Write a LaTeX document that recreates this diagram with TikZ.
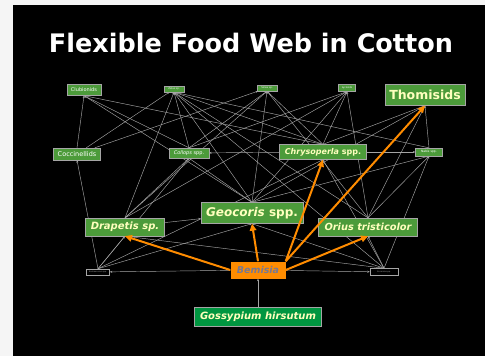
\documentclass[tikz,border=0pt]{standalone}
\usepackage{fontspec}
\setmainfont{DejaVu Sans}
\usetikzlibrary{arrows.meta,backgrounds}

\definecolor{webgreen}{RGB}{76,155,58}
\definecolor{cottongreen}{RGB}{0,150,64}
\definecolor{webyellow}{RGB}{255,255,190}
\definecolor{weborange}{RGB}{255,140,0}
\definecolor{webgray}{RGB}{165,165,165}
\definecolor{bemgray}{RGB}{120,120,145}

\newcommand{\fsz}[1]{\fontsize{#1}{#1}\selectfont}

\begin{document}
\begin{tikzpicture}[x=1pt,y=-1pt,
    taxon/.style={fill=webgreen,draw=webgray,line width=0.3pt,inner sep=0pt,text=webyellow},
    para/.style={fill=black,draw=webgray,line width=0.5pt,inner sep=0pt,text=webgray},
    feed/.style={draw=webgray,line width=0.45pt,-{Stealth[length=2.5pt,width=2pt]}},
    prey/.style={draw=weborange,line width=2pt,-{Triangle[length=7pt,width=6.5pt]}}]

        % page and title
        \useasboundingbox (0,0) rectangle (485,356);
        \node[font=\fsz{25.5}\bfseries,text=white] (title) at (251,43) {Flexible Food Web in Cotton};

        % top row
        \node[taxon,minimum width=34,minimum height=11,font=\fsz{5},text=white] (club) at (84,90) {Clubionids};
        \node[taxon,minimum width=20,minimum height=6,font=\fsz{2.5},text=white] (zel) at (174,89) {Zelus sp.};
        \node[taxon,minimum width=20,minimum height=6,font=\fsz{2.5},text=white] (sin) at (267,88) {Sinea sp.};
        \node[taxon,minimum width=17,minimum height=7,font=\fsz{2.5},text=white] (lyc) at (347,88) {Lycosids};
        \node[taxon,minimum width=80,minimum height=21,font=\fsz{12.5}\bfseries] (thom) at (425,95) {Thomisids};

        % middle row
        \node[taxon,minimum width=47,minimum height=12,font=\fsz{6.5},text=white] (cocc) at (77,154) {Coccinellids};
        \node[taxon,minimum width=40,minimum height=10,font=\fsz{5},text=white] (coll) at (189,153) {\itshape Collops\upshape{} spp.};
        \node[taxon,minimum width=87,minimum height=15,font=\fsz{8}\bfseries] (chry) at (323,152) {\itshape Chrysoperla\upshape{} spp.};
        \node[taxon,minimum width=27,minimum height=8,font=\fsz{3},text=white] (nab) at (429,152) {Nabis spp.};

        % lower row
        \node[taxon,minimum width=79,minimum height=18,font=\fsz{10}\bfseries\itshape] (drap) at (125,227) {Drapetis sp.};
        \node[taxon,minimum width=102,minimum height=21,font=\fsz{12}\bfseries] (geo) at (252,213) {\itshape Geocoris\upshape{} spp.};
        \node[taxon,minimum width=99,minimum height=18,font=\fsz{9.8}\bfseries\itshape] (ori) at (368,227) {Orius tristicolor};

        % whitefly, parasitoids, host plant
        \node[fill=weborange,inner sep=0pt,minimum width=55,minimum height=17,font=\fsz{9.5}\bfseries\itshape,text=bemgray] (bem) at (258,270) {Bemisia};
        \node[para,minimum width=23,minimum height=6,font=\fsz{2}] (ere) at (98,272) {Eretmocerus spp.};
        \node[para,minimum width=28,minimum height=7,font=\fsz{2}] (enc) at (384,272) {Encarsia spp.};
        \node[fill=cottongreen,draw=webgray,line width=0.3pt,inner sep=0pt,minimum width=127,minimum height=19,font=\fsz{10}\bfseries\itshape,text=webyellow] (goss) at (258,317) {Gossypium hirsutum};

        \begin{scope}[on background layer]
            \fill[white!92!gray] (0,0) rectangle (485,356);
            \fill[black] (13,5) rectangle (485,356);
            % prey (north) to predator (south)
            \foreach \a/\b in {cocc/club, coll/club, geo/club, chry/club,
                    coll/zel, geo/zel, ori/zel, chry/zel, nab/zel, drap/zel,
                    chry/sin, geo/sin, drap/sin, coll/sin, ori/sin,
                    coll/lyc, geo/lyc, ori/lyc, chry/lyc, drap/lyc,
                    ori/thom, nab/thom, chry/thom, geo/thom,
                    geo/nab, ori/nab, geo/coll, drap/coll,
                    ere/cocc, ere/drap, ere/geo, ere/coll, ere/chry,
                    enc/geo, enc/ori, enc/chry, enc/nab, enc/drap, enc/zel,
                    goss/bem}
                \draw[feed] (\a.north) -- (\b.south);
            % side links
            \foreach \a/\b in {cocc/zel, cocc/sin, chry/coll, chry/nab, drap/geo, bem/ere, bem/enc}
                \draw[feed] (\a) -- (\b);
        \end{scope}

        % Bemisia eaten by
        \draw[prey] (bem.west) -- (drap.south);
        \draw[prey] (bem.north) -- (geo.south);
        \draw[prey] (bem.north east) -- (chry.south);
        \draw[prey] (bem.north east) -- (thom.south);
        \draw[prey] (bem.east) -- (ori.south);
    \end{tikzpicture}
\end{document}
